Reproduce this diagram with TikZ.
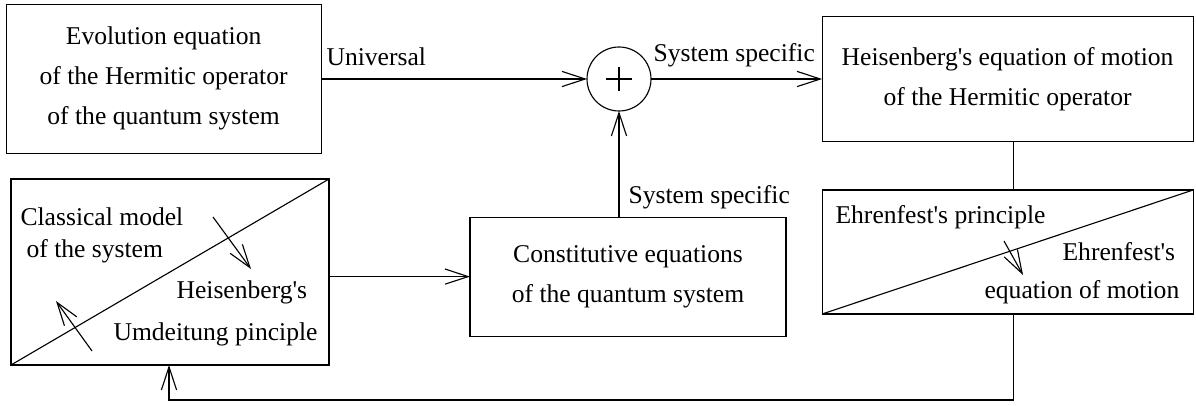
\documentclass[tikz,border=0pt]{standalone}
\usepackage{fontspec}
\setmainfont{Liberation Serif}
\usetikzlibrary{arrows.meta,positioning}
\newcommand{\sq}{\textquotesingle}
\tikzset{
  blockbox/.style={draw, outer sep=0pt, inner sep=0pt, align=center},
  flow/.style={-{Straight Barb[length=0.58cm,width=0.38cm]}},
  lbl/.style={anchor=base west, inner sep=0pt}
}

\begin{document}
\begin{tikzpicture}[font=\fontsize{18.2}{28.5}\selectfont, line width=0.8pt]
\useasboundingbox (0,0) rectangle (29.9,10.125);

% upper row: evolution equation, summing point, Heisenberg's equation
\node[blockbox, minimum width=7.875cm, minimum height=3.725cm] (evol) at (4.09,8.16)
  {Evolution equation\\of the Hermitic operator\\of the quantum system};
\node[draw, circle, minimum size=1.6cm, outer sep=0pt] (sum) at (15.475,8.15) {};
\draw ([xshift=-0.32cm]sum.center) -- ([xshift=0.32cm]sum.center);
\draw ([yshift=-0.3cm]sum.center) -- ([yshift=0.3cm]sum.center);
\node[blockbox, minimum width=9.275cm, minimum height=3.125cm] (heis) at (25.19,8.14)
  {Heisenberg\sq s equation of motion\\of the Hermitic operator};

% lower row
\node[blockbox, minimum width=7.95cm, minimum height=4.65cm] (classic) at (4.25,3.325) {};
\node[blockbox, minimum width=7.9cm, minimum height=2.975cm] (const) at (15.7,3.21)
  {Constitutive equations\\of the quantum system};
\node[blockbox, minimum width=9.275cm, minimum height=3.1cm] (ehren) at (25.19,3.825) {};

% diagonals splitting the two boxes
\draw (classic.south west) -- (classic.north east);
\draw (ehren.south west) -- (ehren.north east);

% texts in the split boxes
\node[lbl] (clmodel) at (0.5,4.5) {Classical model};
\node[lbl] (clsys) at (0.65,3.7) {of the system};
\node[lbl] (umdh) at (4.4,2.675) {Heisenberg\sq s};
\node[lbl] (umdp) at (2.825,1.625) {Umdeitung pinciple};
\node[lbl] (ehp) at (20.875,4.55) {Ehrenfest\sq s principle};
\node[lbl] (ehe) at (26.55,3.625) {Ehrenfest\sq s};
\node[lbl] (ehm) at (24.6,2.675) {equation of motion};

% small arrows across the diagonals
\coordinate (da1) at (5.325,4.7);   \coordinate (db1) at (6.275,3.4);
\coordinate (da2) at (2.3,1.35);    \coordinate (db2) at (1.4,2.6);
\coordinate (da3) at (25.1,4.1);    \coordinate (db3) at (25.575,3.25);
\draw[flow] (da1) -- (db1);
\draw[flow] (da2) -- (db2);
\draw[flow] (da3) -- (db3);

% connectors
\draw[flow] (evol.east |- sum.west) -- (sum.west);
\draw[flow] (sum.east) -- (sum.east -| heis.west);
\draw[flow] (sum.south |- const.north) -- (sum.south);
\draw[flow] (classic.east |- const.west) -- (const.west);
\draw ([xshift=0.14cm]heis.south) -- ([xshift=0.14cm]ehren.north);
\coordinate (fb) at (4.225,0.125);
\draw[flow] ([xshift=0.14cm]ehren.south) |- (fb) -- (fb |- classic.south);

% connector labels
\node[lbl] (univ) at (8.15,8.475) {Universal};
\node[lbl] (spec1) at (16.325,8.575) {System specific};
\node[lbl] (spec2) at (15.7,5.05) {System specific};
\end{tikzpicture}
\end{document}
